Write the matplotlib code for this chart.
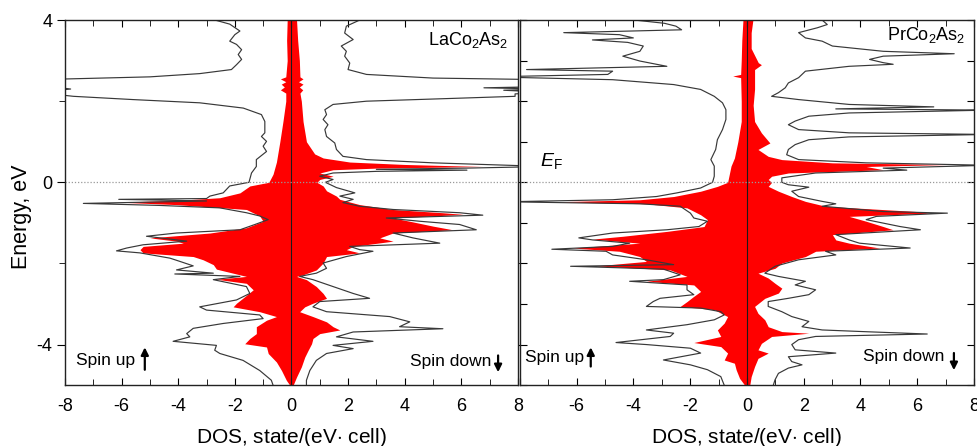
import numpy as np
import matplotlib.pyplot as plt
from matplotlib.ticker import MultipleLocator

plt.rcParams['font.family'] = ['Liberation Sans', 'DejaVu Sans']
plt.rcParams['mathtext.fontset'] = 'custom'
plt.rcParams['mathtext.rm'] = 'Liberation Sans'
plt.rcParams['mathtext.it'] = 'Liberation Sans:italic'

# (energy eV, DOS states/(eV cell)) pairs, DOS given as magnitude
# LaCo2As2
la_up_total = [(4.0, 2.70), (3.9, 2.18), (3.73, 1.82), (3.64, 2.00), (3.48, 2.18), (3.40, 1.94),
               (3.27, 1.76), (3.15, 1.88), (3.03, 1.76), (2.90, 1.94), (2.78, 2.12), (2.68, 3.24),
               (2.60, 5.0), (2.53, 9.0), (2.40, 9.0), (2.30, 7.8), (2.22, 9.0), (2.12, 7.7),
               (2.04, 5.6), (1.96, 3.24), (1.83, 1.70), (1.67, 1.06), (1.50, 0.94), (1.22, 0.94),
               (1.13, 1.06), (1.01, 0.88), (0.89, 1.0), (0.76, 0.88), (0.56, 1.24), (0.39, 1.24),
               (0.23, 1.41), (0.0, 1.50), (-0.09, 2.18), (-0.26, 2.41), (-0.34, 2.88), (-0.40, 3.0),
               (-0.42, 6.1), (-0.46, 3.0), (-0.52, 7.35), (-0.57, 4.65), (-0.63, 2.53), (-0.75, 1.59),
               (-0.83, 1.12), (-0.92, 0.82), (-1.04, 1.29), (-1.17, 1.82), (-1.25, 4.06), (-1.33, 5.12),
               (-1.45, 3.70), (-1.54, 5.24), (-1.62, 5.82), (-1.69, 6.18), (-1.74, 5.35), (-1.87, 4.29),
               (-1.95, 3.94), (-2.06, 3.47), (-2.16, 4.06), (-2.24, 2.76), (-2.26, 4.12), (-2.32, 1.82),
               (-2.40, 2.76), (-2.57, 1.59), (-2.74, 1.47), (-2.90, 1.94), (-3.07, 3.24), (-3.15, 3.0),
               (-3.27, 1.12), (-3.36, 1.0), (-3.48, 2.41), (-3.60, 3.47), (-3.73, 3.70), (-3.81, 3.59),
               (-3.92, 4.18), (-4.02, 2.65), (-4.14, 2.71), (-4.22, 2.53), (-4.39, 1.71), (-4.64, 1.12),
               (-4.88, 0.71), (-5.0, 0.65)]
la_up_co = [(4.0, 0.15), (3.5, 0.17), (3.0, 0.15), (2.6, 0.2), (2.55, 0.39), (2.48, 0.2), (2.42, 0.36),
            (2.35, 0.25), (2.28, 0.39), (2.2, 0.2), (2.0, 0.2), (1.5, 0.3), (1.0, 0.41), (0.5, 0.53),
            (0.2, 0.65), (0.0, 0.8), (-0.09, 1.47), (-0.26, 1.82), (-0.38, 2.53), (-0.44, 3.94),
            (-0.49, 6.06), (-0.55, 4.06), (-0.67, 1.59), (-0.83, 1.12), (-0.96, 1.0), (-1.12, 1.59),
            (-1.25, 2.88), (-1.37, 5.0), (-1.45, 4.06), (-1.50, 3.82), (-1.58, 5.24), (-1.66, 5.35),
            (-1.74, 5.24), (-1.83, 3.47), (-1.91, 3.12), (-2.03, 2.76), (-2.14, 2.65), (-2.24, 2.06),
            (-2.32, 1.59), (-2.39, 2.65), (-2.49, 1.59), (-2.65, 1.35), (-2.82, 1.65), (-2.98, 1.94),
            (-3.07, 2.06), (-3.19, 1.12), (-3.31, 0.53), (-3.40, 0.88), (-3.56, 1.24), (-3.73, 1.24),
            (-3.85, 1.47), (-3.98, 1.65), (-4.06, 0.88), (-4.22, 0.82), (-4.43, 0.53), (-4.64, 0.35),
            (-4.88, 0.18), (-5.0, 0.06)]
la_dn_total = [(4.0, 2.41), (3.85, 1.94), (3.68, 1.88), (3.52, 2.18), (3.36, 1.76), (3.23, 1.94),
               (3.11, 1.88), (2.94, 2.06), (2.78, 2.0), (2.66, 2.65), (2.57, 5.0), (2.53, 9.0),
               (2.36, 9.0), (2.33, 6.8), (2.30, 9.0), (2.27, 7.5), (2.22, 9.0), (2.18, 7.9),
               (2.12, 7.9), (2.08, 6.18), (2.0, 2.65), (1.92, 1.47), (1.79, 1.18), (1.67, 1.24),
               (1.55, 1.12), (1.42, 1.29), (1.30, 1.18), (1.13, 1.24), (0.97, 1.53), (0.81, 1.59),
               (0.64, 1.82), (0.56, 2.65), (0.48, 5.0), (0.39, 9.0), (0.35, 6.18), (0.32, 3.0),
               (0.30, 6.2), (0.27, 3.0), (0.23, 1.47), (0.15, 1.0), (0.07, 1.47), (0.0, 1.2),
               (-0.13, 1.59), (-0.26, 2.24), (-0.34, 1.71), (-0.42, 2.18), (-0.50, 1.82), (-0.59, 2.41),
               (-0.67, 3.59), (-0.75, 5.94), (-0.81, 6.76), (-0.88, 3.35), (-0.96, 4.53), (-1.04, 5.94),
               (-1.17, 6.53), (-1.25, 3.59), (-1.37, 4.29), (-1.50, 5.24), (-1.58, 2.06), (-1.66, 2.41),
               (-1.70, 2.88), (-1.83, 1.94), (-1.99, 1.12), (-2.12, 1.24), (-2.24, 0.88), (-2.32, 0.29),
               (-2.40, 0.76), (-2.57, 1.47), (-2.74, 2.18), (-2.86, 2.76), (-2.94, 1.0), (-3.07, 0.76),
               (-3.19, 1.24), (-3.31, 3.47), (-3.44, 4.18), (-3.56, 3.82), (-3.61, 5.35), (-3.69, 2.18),
               (-3.81, 1.59), (-3.92, 2.88), (-4.02, 1.47), (-4.10, 2.18), (-4.22, 1.24), (-4.39, 0.88),
               (-4.64, 0.65), (-4.88, 0.53), (-5.0, 0.53)]
la_dn_co = [(4.0, 0.18), (3.5, 0.22), (3.0, 0.28), (2.6, 0.3), (2.55, 0.41), (2.48, 0.25), (2.42, 0.41),
            (2.35, 0.28), (2.28, 0.4), (2.2, 0.3), (2.0, 0.35), (1.5, 0.41), (1.0, 0.53), (0.7, 0.82),
            (0.6, 1.12), (0.5, 2.06), (0.44, 4.0), (0.39, 6.76), (0.35, 3.0), (0.31, 1.47), (0.23, 1.0),
            (0.15, 1.47), (0.07, 1.0), (0.0, 0.9), (-0.09, 1.12), (-0.21, 1.24), (-0.34, 1.59),
            (-0.42, 1.71), (-0.55, 2.41), (-0.67, 3.59), (-0.75, 5.35), (-0.79, 6.06), (-0.88, 3.59),
            (-0.96, 4.18), (-1.08, 5.0), (-1.17, 5.7), (-1.25, 3.59), (-1.37, 3.12), (-1.45, 3.59),
            (-1.58, 2.18), (-1.66, 1.94), (-1.74, 2.41), (-1.83, 1.24), (-1.99, 1.12), (-2.16, 0.88),
            (-2.28, 0.41), (-2.32, 0.18), (-2.40, 0.53), (-2.57, 0.88), (-2.74, 1.12), (-2.86, 1.24),
            (-2.98, 0.76), (-3.07, 0.47), (-3.19, 0.29), (-3.31, 0.76), (-3.44, 1.24), (-3.56, 1.47),
            (-3.64, 1.71), (-3.73, 1.0), (-3.85, 0.76), (-3.98, 0.71), (-4.14, 0.59), (-4.31, 0.47),
            (-4.55, 0.35), (-4.80, 0.18), (-5.0, 0.06)]

# PrCo2As2
pr_up_total = [(4.0, 3.95), (3.92, 2.9), (3.85, 2.5), (3.76, 2.3), (3.69, 6.45), (3.64, 4.49),
               (3.56, 4.0), (3.51, 5.44), (3.45, 4.2), (3.36, 3.65), (3.23, 3.77), (3.11, 4.37),
               (2.99, 3.77), (2.86, 2.82), (2.78, 7.76), (2.74, 4.73), (2.66, 4.9), (2.60, 9.0),
               (2.53, 4.73), (2.41, 2.58), (2.29, 1.63), (2.12, 1.15), (1.96, 0.86), (1.79, 0.74),
               (1.55, 0.74), (1.30, 0.86), (1.05, 1.04), (0.81, 1.10), (0.56, 1.27), (0.40, 1.15),
               (0.15, 1.15), (0.0, 1.21), (-0.14, 1.63), (-0.26, 2.46), (-0.35, 3.18), (-0.43, 4.73),
               (-0.48, 8.5), (-0.53, 3.77), (-0.59, 2.35), (-0.76, 1.99), (-0.88, 1.87), (-0.96, 1.39),
               (-1.09, 1.69), (-1.17, 2.82), (-1.25, 4.73), (-1.37, 5.92), (-1.42, 5.44), (-1.50, 4.13),
               (-1.58, 4.73), (-1.65, 6.87), (-1.70, 4.96), (-1.79, 4.73), (-1.91, 3.54), (-2.03, 2.58),
               (-2.07, 6.21), (-2.14, 2.94), (-2.28, 2.35), (-2.40, 2.94), (-2.44, 4.13), (-2.53, 2.11),
               (-2.65, 2.11), (-2.77, 1.87), (-2.86, 3.06), (-2.94, 3.30), (-3.06, 3.54), (-3.10, 1.63),
               (-3.19, 0.92), (-3.27, 0.80), (-3.39, 1.15), (-3.51, 2.11), (-3.64, 3.54), (-3.72, 2.58),
               (-3.80, 2.70), (-3.95, 4.61), (-4.0, 3.54), (-4.09, 1.99), (-4.21, 1.63), (-4.38, 2.94),
               (-4.50, 1.99), (-4.62, 1.39), (-4.79, 0.92), (-5.0, 0.80)]
pr_up_co = [(4.0, 0.14), (3.5, 0.18), (3.0, 0.2), (2.66, 0.22), (2.62, 0.5), (2.58, 0.22), (2.0, 0.2),
            (1.5, 0.2), (1.0, 0.32), (0.6, 0.44), (0.4, 0.56), (0.2, 0.62), (0.0, 0.68), (-0.10, 1.04),
            (-0.22, 1.63), (-0.35, 2.58), (-0.43, 3.77), (-0.48, 6.75), (-0.53, 3.54), (-0.63, 2.11),
            (-0.80, 1.63), (-0.92, 1.39), (-1.09, 1.51), (-1.21, 2.82), (-1.33, 4.37), (-1.40, 5.44),
            (-1.50, 3.77), (-1.62, 6.15), (-1.70, 4.49), (-1.83, 3.77), (-1.95, 3.54), (-2.06, 5.32),
            (-2.16, 2.70), (-2.32, 2.11), (-2.44, 3.54), (-2.53, 1.87), (-2.69, 1.63), (-2.81, 1.87),
            (-2.94, 2.11), (-3.06, 2.35), (-3.14, 1.15), (-3.31, 0.68), (-3.47, 0.80), (-3.64, 1.04),
            (-3.80, 0.92), (-3.95, 1.87), (-4.05, 0.92), (-4.21, 0.68), (-4.38, 0.80), (-4.46, 0.44),
            (-4.62, 0.38), (-4.83, 0.26), (-5.0, 0.08)]
pr_dn_total = [(4.0, 2.65), (3.89, 2.83), (3.81, 2.48), (3.69, 1.82), (3.56, 2.06), (3.48, 2.65),
               (3.36, 3.01), (3.23, 4.8), (3.17, 7.3), (3.11, 4.8), (3.03, 4.32), (2.95, 4.8),
               (2.91, 5.15), (2.86, 3.6), (2.74, 2.06), (2.58, 1.82), (2.45, 1.46), (2.33, 1.35),
               (2.21, 1.11), (2.12, 0.87), (2.04, 1.82), (1.92, 3.6), (1.86, 6.58), (1.81, 3.13),
               (1.78, 8.5), (1.71, 3.6), (1.63, 2.18), (1.51, 1.7), (1.42, 1.46), (1.30, 1.82),
               (1.22, 3.6), (1.18, 8.5), (1.12, 3.6), (1.05, 2.18), (0.93, 1.7), (0.81, 1.46),
               (0.68, 1.4), (0.56, 1.82), (0.48, 4.2), (0.42, 8.5), (0.35, 4.8), (0.30, 5.63),
               (0.23, 2.42), (0.11, 1.23), (0.0, 1.23), (-0.06, 1.46), (-0.12, 2.18), (-0.22, 1.58),
               (-0.35, 1.82), (-0.47, 2.65), (-0.53, 3.13), (-0.59, 2.65), (-0.72, 4.8), (-0.76, 7.06),
               (-0.84, 4.56), (-0.92, 4.2), (-1.09, 5.39), (-1.17, 6.11), (-1.29, 3.13), (-1.42, 3.6),
               (-1.50, 3.96), (-1.62, 5.75), (-1.70, 2.77), (-1.79, 3.13), (-1.91, 1.82), (-2.07, 0.99),
               (-2.24, 0.63), (-2.32, 1.11), (-2.44, 2.06), (-2.53, 1.7), (-2.65, 2.42), (-2.77, 2.18),
               (-2.86, 1.46), (-2.94, 0.75), (-3.06, 0.75), (-3.19, 1.23), (-3.31, 1.58), (-3.43, 2.18),
               (-3.56, 1.94), (-3.64, 2.65), (-3.68, 4.08), (-3.74, 6.35), (-3.80, 2.42), (-3.88, 1.82),
               (-4.0, 1.58), (-4.13, 1.7), (-4.21, 3.13), (-4.30, 1.46), (-4.42, 1.58), (-4.50, 1.94),
               (-4.58, 1.46), (-4.71, 1.11), (-4.87, 0.99), (-5.0, 0.93)]
pr_dn_co = [(4.0, 0.21), (3.69, 0.15), (3.3, 0.15), (2.95, 0.4), (2.9, 0.51), (2.78, 0.27), (2.3, 0.27),
            (1.9, 0.22), (1.5, 0.27), (1.22, 0.51), (0.97, 0.81), (0.81, 0.39), (0.64, 0.75), (0.56, 1.23),
            (0.48, 3.01), (0.44, 7.06), (0.39, 4.2), (0.31, 4.8), (0.23, 1.46), (0.15, 0.87), (0.07, 0.75),
            (0.0, 0.87), (-0.10, 0.75), (-0.22, 1.11), (-0.35, 1.58), (-0.47, 2.06), (-0.59, 2.77),
            (-0.72, 5.98), (-0.76, 6.46), (-0.84, 3.6), (-0.96, 4.2), (-1.09, 4.8), (-1.17, 5.15),
            (-1.29, 3.01), (-1.42, 3.13), (-1.50, 3.6), (-1.62, 4.68), (-1.70, 2.42), (-1.83, 2.06),
            (-1.99, 1.23), (-2.12, 0.99), (-2.24, 0.39), (-2.36, 0.75), (-2.49, 0.99), (-2.61, 1.23),
            (-2.73, 1.11), (-2.86, 0.63), (-3.06, 0.27), (-3.23, 0.39), (-3.39, 0.63), (-3.56, 0.75),
            (-3.68, 1.23), (-3.72, 2.18), (-3.80, 0.87), (-3.97, 0.51), (-4.13, 0.39), (-4.21, 0.75),
            (-4.34, 0.39), (-4.54, 0.27), (-4.79, 0.15), (-5.0, 0.1)]

dos_ticks = [-8, -6, -4, -2, 0, 2, 4, 6, 8]
energy_ticks = [-4, 0, 4]

fig = plt.figure(figsize=(9.77, 4.46), dpi=100)
ax1 = fig.add_axes([0.0665, 0.1365, 0.4636, 0.8185])
ax2 = fig.add_axes([0.532, 0.1365, 0.465, 0.8185])


def draw_panel(ax, name, up_total, up_co, dn_total, dn_co):
    # partial DOS as red filled areas, spin up to the left
    for curve, sign in ((up_co, -1), (dn_co, 1)):
        e, d = np.array(curve).T
        ax.fill_betweenx(e, 0, sign * d, color='#ff0000', lw=0)
    # total DOS outline
    for curve, sign in ((up_total, -1), (dn_total, 1)):
        e, d = np.array(curve).T
        ax.plot(sign * d, e, color='#383838', lw=0.85)
    ax.axvline(0, color='#1a1a1a', lw=0.8)
    ax.axhline(0, color='#999999', lw=0.9, ls=(0, (1, 1.5)))
    ax.set_xlim(-8, 8)
    ax.set_ylim(-5, 4)
    ax.set_xticks(dos_ticks)
    ax.set_xticklabels([str(t) for t in dos_ticks])
    ax.xaxis.set_minor_locator(MultipleLocator(1))
    ax.tick_params(axis='x', which='both', direction='in', top=True, labelsize=13, pad=9)
    ax.tick_params(axis='x', which='major', length=5)
    ax.tick_params(axis='x', which='minor', length=4)
    for sp in ax.spines.values():
        sp.set_color('#222222')
        sp.set_linewidth(1.0)
    ax.text(0.5, -0.159, 'DOS, state/(eV$\\cdot$ cell)', transform=ax.transAxes,
            ha='center', va='baseline', fontsize=15)


draw_panel(ax1, 'LaCo$_2$As$_2$', la_up_total, la_up_co, la_dn_total, la_dn_co)
draw_panel(ax2, 'PrCo$_2$As$_2$', pr_up_total, pr_up_co, pr_dn_total, pr_dn_co)

ax1.text(7.65, 3.38, 'LaCo$_2$As$_2$', ha='right', va='baseline', fontsize=13)
ax2.text(7.7, 3.52, 'PrCo$_2$As$_2$', ha='right', va='baseline', fontsize=13)

# left panel carries the energy scale
ax1.set_yticks(energy_ticks)
ax1.set_yticklabels([str(t) for t in energy_ticks])
ax1.yaxis.set_minor_locator(MultipleLocator(2))
ax1.tick_params(axis='y', which='both', direction='out', right=True, labelsize=13, pad=3)
ax1.tick_params(axis='y', which='major', length=6)
ax1.tick_params(axis='y', which='minor', length=4)

# right panel: ticks only, its -8 would sit on the left panel's 8
ax2.set_xticklabels([''] + [str(t) for t in dos_ticks[1:]])
ax2.yaxis.set_major_locator(MultipleLocator(1))
ax2.tick_params(axis='y', which='both', direction='in', left=True, right=True,
                labelleft=False, length=5)

# spin labels and arrows
spin_marks = [
    (ax1, (-7.6, -4.51), -5.18, (-4.69, -4.0), (4.19, -4.53), 7.3, (-4.2, -4.75)),
    (ax2, (-7.8, -4.44), -5.5, (-4.61, -4.0), (4.08, -4.41), 7.29, (-4.14, -4.7)),
]
for ax, up_xy, up_x, up_e, dn_xy, dn_x, dn_e in spin_marks:
    ax.text(*up_xy, 'Spin up', fontsize=12.5, va='baseline')
    ax.annotate('', xy=(up_x, up_e[1]), xytext=(up_x, up_e[0]),
                arrowprops=dict(arrowstyle='-|>', color='black', lw=1.6, mutation_scale=11))
    ax.text(*dn_xy, 'Spin down', fontsize=12.5, va='baseline')
    ax.annotate('', xy=(dn_x, dn_e[1]), xytext=(dn_x, dn_e[0]),
                arrowprops=dict(arrowstyle='-|>', color='black', lw=1.6, mutation_scale=11))

ax2.text(-7.3, 0.4, '$E_{\\mathrm{F}}$', fontsize=14, va='baseline')

fig.text(22 / 977, 0.513, 'Energy, eV', rotation=90, ha='center', va='center', fontsize=15.5)

fig.savefig('out.png', dpi=100)
